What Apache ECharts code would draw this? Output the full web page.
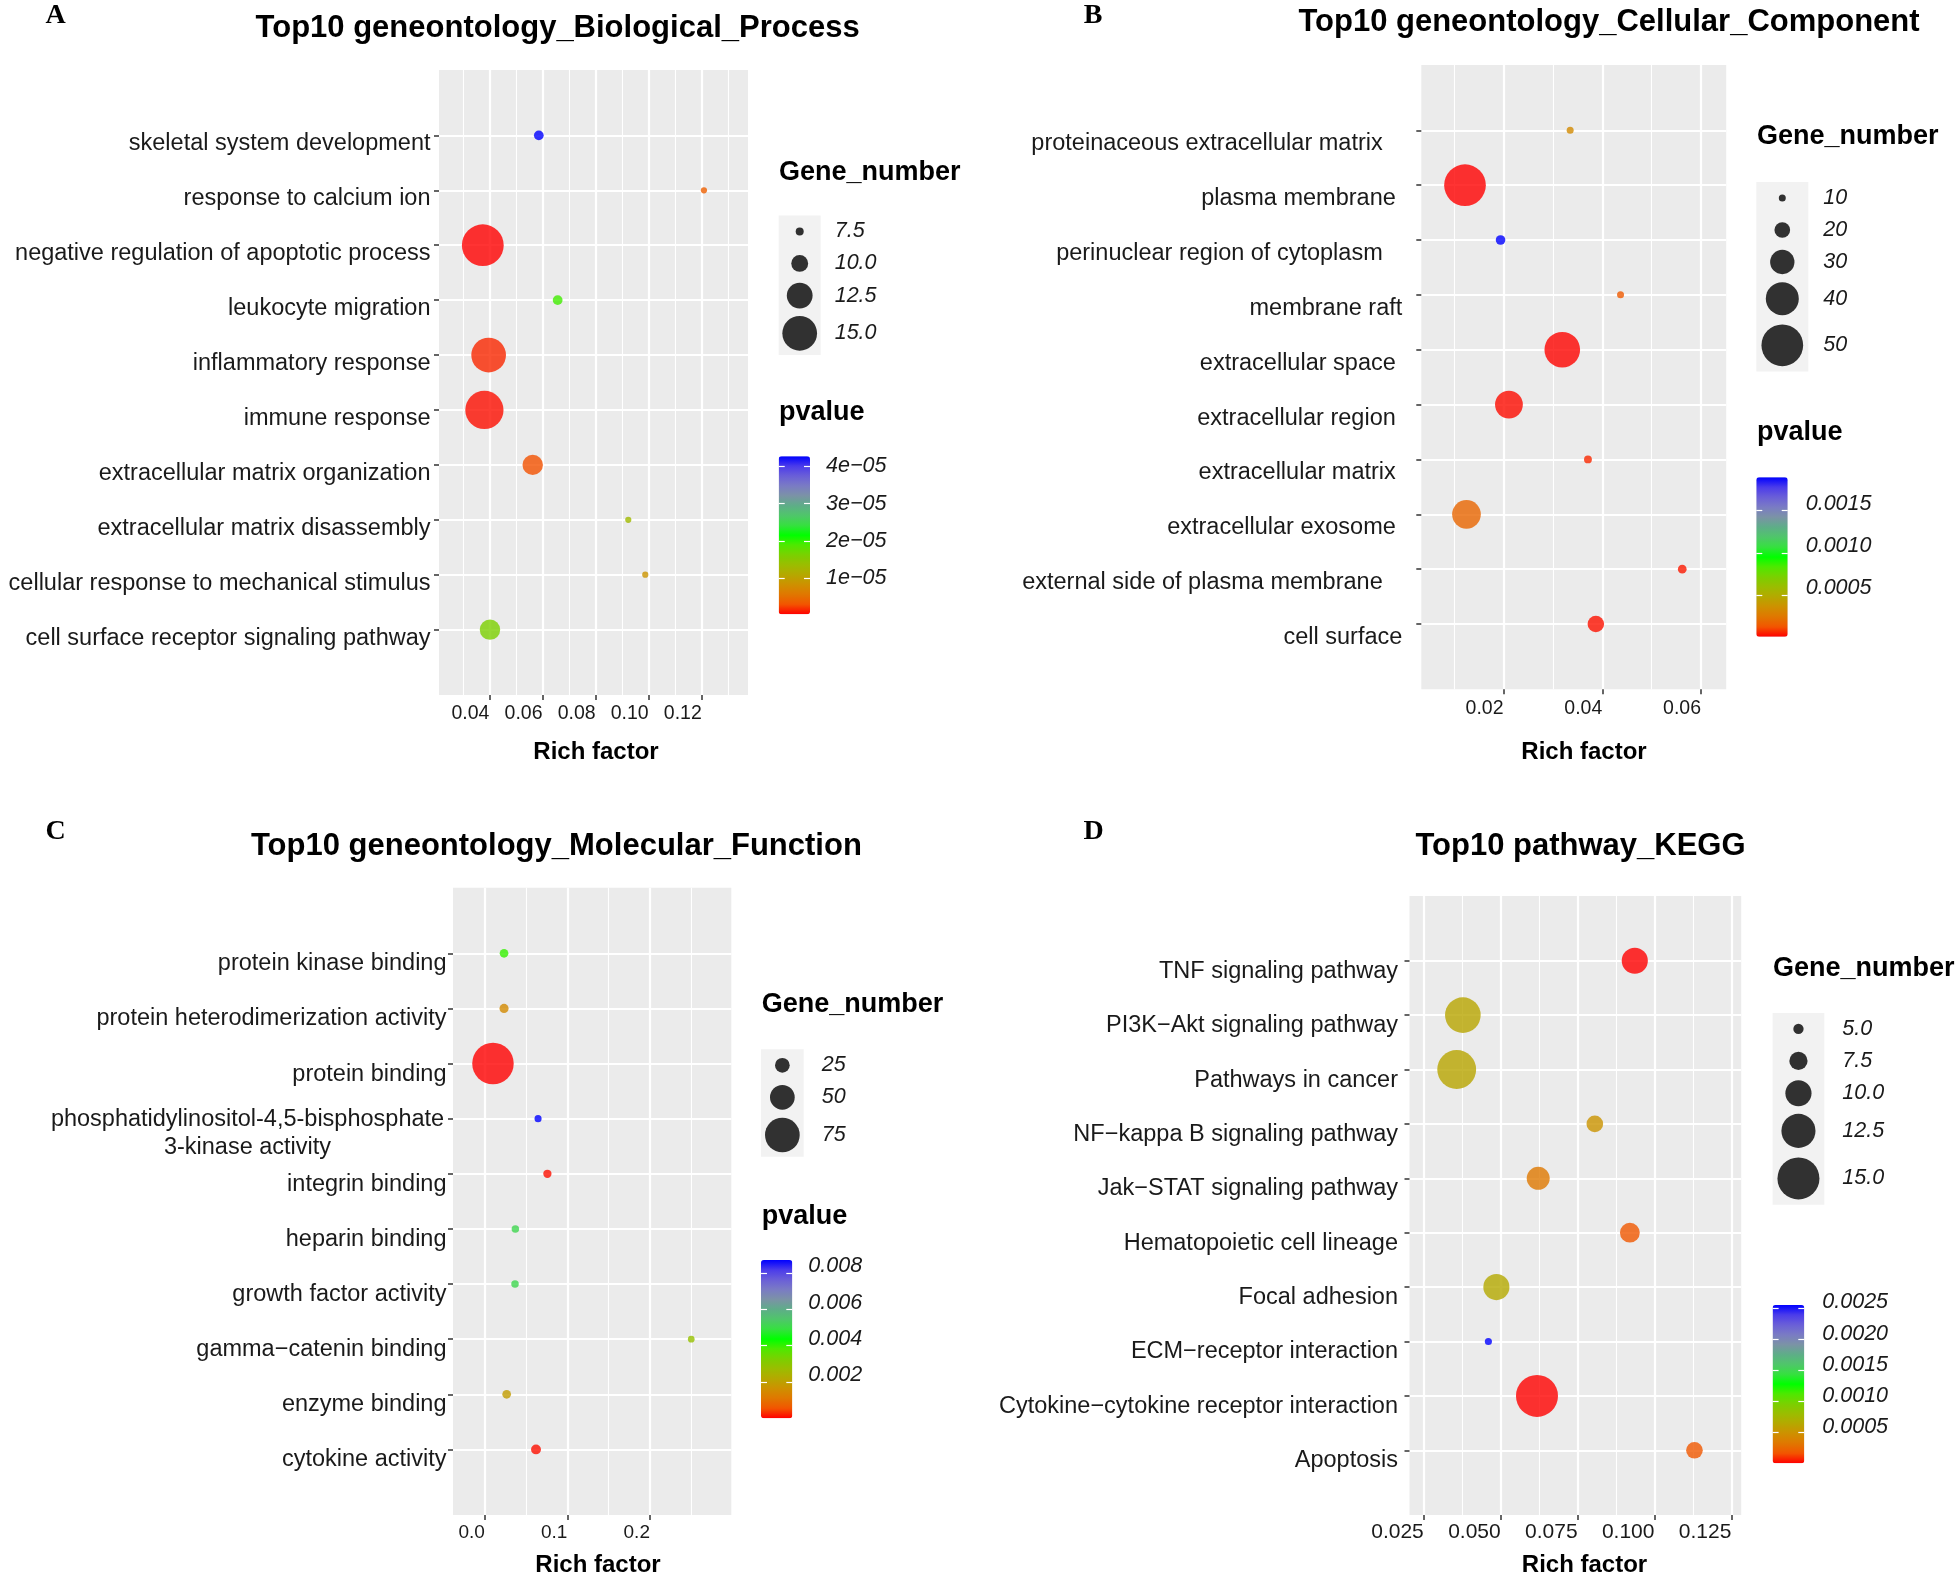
<!DOCTYPE html>
<html><head><meta charset="utf-8">
<script src="https://cdn.jsdelivr.net/npm/echarts@6/dist/echarts.min.js"></script>
<style>html,body{margin:0;padding:0;background:#fff}#c{width:1956px;height:1572px}</style>
</head><body><div id="c"></div>
<script>
// ---------- colour ramp (red -> green -> blue, Lab-like) ----------
const GRADIENT = ['#FF0000','#F25500','#E07700','#CE9000','#B5A800','#9BBD00','#7AD000','#4FE800','#00FF00',
  '#36E040','#4FC66A','#5EAD88','#7B93A6','#7A7BC4','#6A5FD8','#4B3CEA','#0000FF'];

// ---------- Panel A : Biological Process ----------
const catsA = ['skeletal system development','response to calcium ion','negative regulation of apoptotic process',
  'leukocyte migration','inflammatory response','immune response','extracellular matrix organization',
  'extracellular matrix disassembly','cellular response to mechanical stimulus','cell surface receptor signaling pathway'];
const richA  = [0.0586, 0.1208, 0.0375, 0.0657, 0.0397, 0.0381, 0.0563, 0.0923, 0.0987, 0.0402];
const genesA = [8, 7, 17, 8, 15, 16, 11, 7, 7, 11];
const pvalA  = [4.27e-05, 3.7e-06, 2.7e-07, 1.93e-05, 1.5e-06, 7e-07, 2.8e-06, 1.3e-05, 8.7e-06, 1.6e-05];
const xTicksA = [0.04, 0.06, 0.08, 0.10, 0.12];
const xTickLabelsA = ['0.04','0.06','0.08','0.10','0.12'];
const xMinorA = [0.03, 0.05, 0.07, 0.09, 0.11, 0.13];
const sizeBreaksA = [7.5, 10, 12.5, 15];
const sizeLabelsA = ['7.5','10.0','12.5','15.0'];
const pTicksA = [1e-05, 2e-05, 3e-05, 4e-05];
const pLabelsA = ['1e\u221205','2e\u221205','3e\u221205','4e\u221205'];

// ---------- Panel B : Cellular Component (labels keep their trailing blanks) ----------
const catsB = ['proteinaceous extracellular matrix   ','plasma membrane ','perinuclear region of cytoplasm   ','membrane raft',
  'extracellular space ','extracellular region ','extracellular matrix ','extracellular exosome ',
  'external side of plasma membrane   ','cell surface'];
const richB  = [0.0335, 0.0122, 0.0194, 0.0437, 0.0319, 0.0211, 0.0371, 0.0125, 0.0562, 0.0387];
const genesB = [10, 50, 13, 10, 43, 34, 11, 35, 12, 21];
const pvalB  = [0.00033, 5e-06, 0.001894, 0.00014, 1e-05, 2e-05, 6e-05, 0.00018, 4e-05, 3e-05];
const xTicksB = [0.02, 0.04, 0.06];
const xTickLabelsB = ['0.02','0.04','0.06'];
const xMinorB = [0.01, 0.03, 0.05];
const sizeBreaksB = [10, 20, 30, 40, 50];
const sizeLabelsB = ['10','20','30','40','50'];
const pTicksB = [0.0005, 0.0010, 0.0015];
const pLabelsB = ['0.0005','0.0010','0.0015'];

// ---------- Panel C : Molecular Function ----------
const catsC = ['protein kinase binding','protein heterodimerization activity','protein binding',
  'phosphatidylinositol-4,5-bisphosphate\n3-kinase activity','integrin binding','heparin binding',
  'growth factor activity','gamma\u2212catenin binding','enzyme binding','cytokine activity'];
const richC  = [0.0233, 0.0233, 0.0099, 0.0645, 0.0758, 0.0370, 0.0366, 0.2500, 0.0265, 0.0620];
const genesC = [10, 11, 92, 6, 9, 7, 7, 5, 10, 13];
const pvalC  = [0.0040, 0.0015, 1e-06, 0.00871, 0.0001, 0.0051, 0.0051, 0.0028, 0.0019, 0.0001];
const xTicksC = [0.0, 0.1, 0.2];
const xTickLabelsC = ['0.0','0.1','0.2'];
const xMinorC = [0.05, 0.15, 0.25];
const sizeBreaksC = [25, 50, 75];
const sizeLabelsC = ['25','50','75'];
const pTicksC = [0.002, 0.004, 0.006, 0.008];
const pLabelsC = ['0.002','0.004','0.006','0.008'];

// ---------- Panel D : KEGG ----------
const catsD = ['TNF signaling pathway','PI3K\u2212Akt signaling pathway','Pathways in cancer',
  'NF\u2212kappa B signaling pathway','Jak\u2212STAT signaling pathway','Hematopoietic cell lineage',
  'Focal adhesion','ECM\u2212receptor interaction','Cytokine\u2212cytokine receptor interaction','Apoptosis'];
const richD  = [0.0936, 0.0377, 0.0357, 0.0806, 0.0622, 0.0920, 0.0486, 0.0460, 0.0618, 0.1130];
const genesD = [10, 13, 14, 7, 9, 8, 10, 4, 15, 7];
const pvalD  = [6e-06, 0.00062, 0.00062, 0.0005, 0.00033, 0.00018, 0.00065, 0.002547, 8e-06, 0.00018];
const xTicksD = [0.025, 0.050, 0.075, 0.100, 0.125];
const xTickLabelsD = ['0.025','0.050','0.075','0.100','0.125'];
const xMinorD = [0.0375, 0.0625, 0.0875, 0.1125];
const sizeBreaksD = [5, 7.5, 10, 12.5, 15];
const sizeLabelsD = ['5.0','7.5','10.0','12.5','15.0'];
const pTicksD = [0.0005, 0.0010, 0.0015, 0.0020, 0.0025];
const pLabelsD = ['0.0005','0.0010','0.0015','0.0020','0.0025'];

// ---------- layout / style (positions, sizes) ----------
const FONT = "'Liberation Sans', Arial, Helvetica, sans-serif";
const SERIF = "'Liberation Serif', 'Times New Roman', serif";
const panels = [
  {letter:'A', title:'Top10 geneontology_Biological_Process', cats:catsA, rich:richA, genes:genesA, p:pvalA,
   xTicks:xTicksA, xTickLabels:xTickLabelsA, xMinor:xMinorA, sizeBreaks:sizeBreaksA, sizeLabels:sizeLabelsA,
   pTicks:pTicksA, pLabels:pLabelsA,
   L:{grid:[439,70,309,625], xRange:[0.021,0.1374], yMargin:8.5, dy:8.5, xMargin:9, tickFont:19.5,
      sizeFit:[7.5,8,15,34.7], key:[778.7,215.4,42], keyMargin:14, bar:[778.7,456.3,31.3,157.9], barMargin:16, barUp:0,
      titleXY:[557.6,28.5], letterXY:[55.6,15.5], gTitle:[779,172.5], pTitle:[779,412.5], xName:[596,752]}},
  {letter:'B', title:'Top10 geneontology_Cellular_Component', cats:catsB, rich:richB, genes:genesB, p:pvalB,
   xTicks:xTicksB, xTickLabels:xTickLabelsB, xMinor:xMinorB, sizeBreaks:sizeBreaksB, sizeLabels:sizeLabelsB,
   pTicks:pTicksB, pLabels:pLabelsB,
   L:{grid:[1421.3,65,304.9,624.3], xRange:[0.00335,0.0651], yMargin:19, dy:13.5, xMargin:9, tickFont:19.5,
      sizeFit:[10,7,50,41.7], key:[1756.3,182,52], keyMargin:15, bar:[1756.3,477.3,31.4,159.5], barMargin:18, barUp:6.5,
      titleXY:[1609,22.6], letterXY:[1093,15.5], gTitle:[1757,137], pTitle:[1757,433], xName:[1584,752]}},
  {letter:'C', title:'Top10 geneontology_Molecular_Function', cats:catsC, rich:richC, genes:genesC, p:pvalC,
   xTicks:xTicksC, xTickLabels:xTickLabelsC, xMinor:xMinorC, sizeBreaks:sizeBreaksC, sizeLabels:sizeLabelsC,
   pTicks:pTicksC, pLabels:pLabelsC,
   L:{grid:[453,887.7,278.3,627.3], xRange:[-0.0385,0.2985], yMargin:6.5, dy:10.5, xMargin:8, tickFont:19,
      sizeFit:[25,14.7,75,34.7], key:[761,1049.3,42.7], keyMargin:18, bar:[761,1260,31.3,158.2], barMargin:16, barUp:6.5,
      titleXY:[556.4,846.5], letterXY:[55.6,831.5], gTitle:[761.7,1005], pTitle:[761.7,1216.5], xName:[598,1565.5]}},
  {letter:'D', title:'Top10 pathway_KEGG', cats:catsD, rich:richD, genes:genesD, p:pvalD,
   xTicks:xTicksD, xTickLabels:xTickLabelsD, xMinor:xMinorD, sizeBreaks:sizeBreaksD, sizeLabels:sizeLabelsD,
   pTicks:pTicksD, pLabels:pLabelsD,
   L:{grid:[1409.5,896,331.7,619], xRange:[0.02035,0.1282], yMargin:11.5, dy:10.5, xMargin:7, tickFont:21,
      sizeFit:[5,10.3,15,42], key:[1772.6,1012.9,51.7], keyMargin:18, bar:[1772.6,1305,31.7,158.2], barMargin:18, barUp:5.5,
      titleXY:[1580.5,846.4], letterXY:[1093.6,831.5], gTitle:[1773,968.5], pTitle:null, xName:[1584.5,1565]}}
];

const findIdx = (arr, v) => arr.findIndex(t => Math.abs(t - v) <= Math.abs(t) * 1e-6 + 1e-9);
const CAT_FONT = 23.5;
const grid = [], xAxis = [], yAxis = [], series = [], visualMap = [], graphic = [];

function textEl(x, y, text, font, align) {
  return {type:'text', x:x, y:y, z:100, silent:true,
    style:{text:text, font:font, fill:'#000', align:align||'left', verticalAlign:'middle',
           textAlign:align||'left', textVerticalAlign:'middle'}};
}

panels.forEach((P) => {
  const L = P.L;
  const rows = P.cats.map((_, i) => i);
  // size scale (diameter linear in Gene_number, fitted to the legend)
  const f = L.sizeFit, slope = (f[3] - f[1]) / (f[2] - f[0]);
  const dOf = (v) => f[1] + slope * (v - f[0]);
  // legend key layout: each key grows with its symbol
  const keyH = P.sizeBreaks.map(v => Math.max(32, 1.25 * dOf(v)));
  const keyC = []; let acc = 0;
  keyH.forEach(h => { keyC.push(acc + h / 2); acc += h; });
  const keyTotal = acc;

  const gMain = grid.length;
  grid.push({left:L.grid[0], top:L.grid[1], width:L.grid[2], height:L.grid[3], show:true,
             backgroundColor:'#EBEBEB', borderWidth:0, containLabel:false, outerBoundsMode:'none'});
  const gKey = grid.length;
  grid.push({left:L.key[0], top:L.key[1], width:L.key[2], height:keyTotal, show:true,
             backgroundColor:'#F2F2F2', borderWidth:0, containLabel:false, outerBoundsMode:'none'});
  const gBar = grid.length;
  grid.push({left:L.bar[0], top:L.bar[1], width:L.bar[2], height:L.bar[3], show:false,
             containLabel:false, outerBoundsMode:'none'});

  const noLine = {show:false, onZero:false};
  // main x (major) + overlay x (minor grid lines)
  const xMain = xAxis.length;
  xAxis.push({gridIndex:gMain, type:'value', min:L.xRange[0], max:L.xRange[1], position:'bottom',
    axisLine:noLine,
    axisTick:{show:true, length:5, lineStyle:{color:'#333', width:1.5}, customValues:P.xTicks},
    axisLabel:{show:true, customValues:P.xTicks, formatter:(v) => P.xTickLabels[findIdx(P.xTicks, v)],
      align:'right', margin:L.xMargin, fontSize:L.tickFont, fontFamily:FONT, color:'#1a1a1a'},
    splitLine:{show:true, lineStyle:{color:'#FFFFFF', width:2.2}}});
  xAxis.push({gridIndex:gMain, type:'value', min:L.xRange[0], max:L.xRange[1], position:'top',
    axisLine:noLine, axisTick:{show:false, customValues:P.xMinor},
    axisLabel:{show:false, customValues:P.xMinor},
    splitLine:{show:true, lineStyle:{color:'#FFFFFF', width:1.1}}});
  const xKey = xAxis.length;
  xAxis.push({gridIndex:gKey, type:'value', min:-1, max:1, show:false, axisLine:noLine});
  xAxis.push({gridIndex:gBar, type:'value', min:0, max:1, show:false, axisLine:noLine});

  // main y: rows on a value axis so ggplot's expansion can be matched
  const yMain = yAxis.length;
  const wrapW = 398;
  const tokenBase = {fontSize:CAT_FONT, fontFamily:FONT, color:'#1a1a1a'};
  yAxis.push({gridIndex:gMain, type:'value', inverse:true, min:-1.19, max:10.19,
    axisLine:noLine,
    axisTick:{show:true, length:5, lineStyle:{color:'#333', width:1.5}, customValues:rows},
    axisLabel:{show:true, customValues:rows, margin:L.yMargin, fontSize:CAT_FONT, fontFamily:FONT, color:'#1a1a1a',
      lineHeight:28, padding:[2 * L.dy, 0, 0, 0],
      formatter:(v) => {
        const s = P.cats[Math.round(v)];
        if (s.indexOf('\n') >= 0) {
          const q = s.split('\n');
          return '{e|\u00A0}\n{m|' + q[0] + '}\n{m|' + q[1] + '}';
        }
        return s;
      },
      rich:{
        e:Object.assign({}, tokenBase, {fontSize:6, lineHeight:8.4, height:8.4}),
        m:Object.assign({}, tokenBase, {width:wrapW, align:'center', lineHeight:28, height:28})
      }},
    splitLine:{show:true, lineStyle:{color:'#FFFFFF', width:2.2}}});
  const yKey = yAxis.length;
  yAxis.push({gridIndex:gKey, type:'value', inverse:true, min:0, max:keyTotal, position:'right',
    axisLine:noLine, axisTick:{show:false, customValues:keyC}, splitLine:{show:false},
    axisLabel:{show:true, customValues:keyC, formatter:(v) => P.sizeLabels[findIdx(keyC, v)],
      margin:L.keyMargin, fontSize:21.5, fontStyle:'italic', fontFamily:FONT, color:'#1a1a1a', align:'left'}});
  const pMin = Math.min(...P.p), pMax = Math.max(...P.p);
  const barLabel = {show:true, customValues:P.pTicks, formatter:(v) => P.pLabels[findIdx(P.pTicks, v)],
      margin:L.barMargin, fontSize:21.5, fontStyle:'italic', fontFamily:FONT, color:'#1a1a1a', align:'left'};
  if (L.barUp > 0) { barLabel.verticalAlign = 'bottom'; barLabel.lineHeight = 2 * L.barUp; }
  yAxis.push({gridIndex:gBar, type:'value', min:pMin, max:pMax, position:'right', z:10,
    axisLine:noLine, splitLine:{show:false},
    axisTick:{show:true, inside:true, length:6, lineStyle:{color:'#FFFFFF', width:1.2}, customValues:P.pTicks},
    axisLabel:barLabel});
  yAxis.push({gridIndex:gBar, type:'value', min:pMin, max:pMax, position:'left', z:10,
    axisLine:noLine, splitLine:{show:false}, axisLabel:{show:false, customValues:P.pTicks},
    axisTick:{show:true, inside:true, length:6, lineStyle:{color:'#FFFFFF', width:1.2}, customValues:P.pTicks}});

  // series
  const sMain = series.length;
  series.push({type:'scatter', xAxisIndex:xMain, yAxisIndex:yMain, symbol:'circle', silent:true,
    itemStyle:{opacity:0.8},
    data:P.cats.map((c, i) => [P.rich[i], i, P.genes[i], P.p[i]])});
  const sKey = series.length;
  series.push({type:'scatter', xAxisIndex:xKey, yAxisIndex:yKey, symbol:'circle', silent:true,
    itemStyle:{color:'#000000', opacity:0.8},
    data:P.sizeBreaks.map((v, i) => [0, keyC[i], v])});

  // visual maps: colour (pvalue) and size (Gene_number)
  visualMap.push({type:'continuous', seriesIndex:sMain, dimension:3,
    min:pMin, max:pMax, inRange:{color:GRADIENT},
    orient:'vertical', left:L.bar[0], top:L.bar[1], itemWidth:L.bar[2], itemHeight:L.bar[3],
    padding:0, calculable:false, hoverLink:false, text:null, showLabel:false});
  const gMin = Math.min(...P.genes), gMax = Math.max(...P.genes);
  visualMap.push({type:'continuous', show:false, seriesIndex:[sMain, sKey], dimension:2, min:gMin, max:gMax,
    inRange:{symbolSize:[dOf(gMin), dOf(gMax)]}});

  // texts
  graphic.push(textEl(L.letterXY[0], L.letterXY[1], P.letter, 'bold 28px ' + SERIF, 'center'));
  graphic.push(textEl(L.titleXY[0], L.titleXY[1], P.title, 'bold 31px ' + FONT, 'center'));
  graphic.push(textEl(L.gTitle[0], L.gTitle[1], 'Gene_number', 'bold 27px ' + FONT, 'left'));
  if (L.pTitle) graphic.push(textEl(L.pTitle[0], L.pTitle[1], 'pvalue', 'bold 27px ' + FONT, 'left'));
  graphic.push(textEl(L.xName[0], L.xName[1], 'Rich factor', 'bold 24px ' + FONT, 'center'));
});

const chart = echarts.init(document.getElementById('c'), null, {renderer:'canvas', width:1956, height:1572});
chart.setOption({animation:false, backgroundColor:'#FFFFFF', grid, xAxis, yAxis, series, visualMap, graphic});
</script></body></html>
